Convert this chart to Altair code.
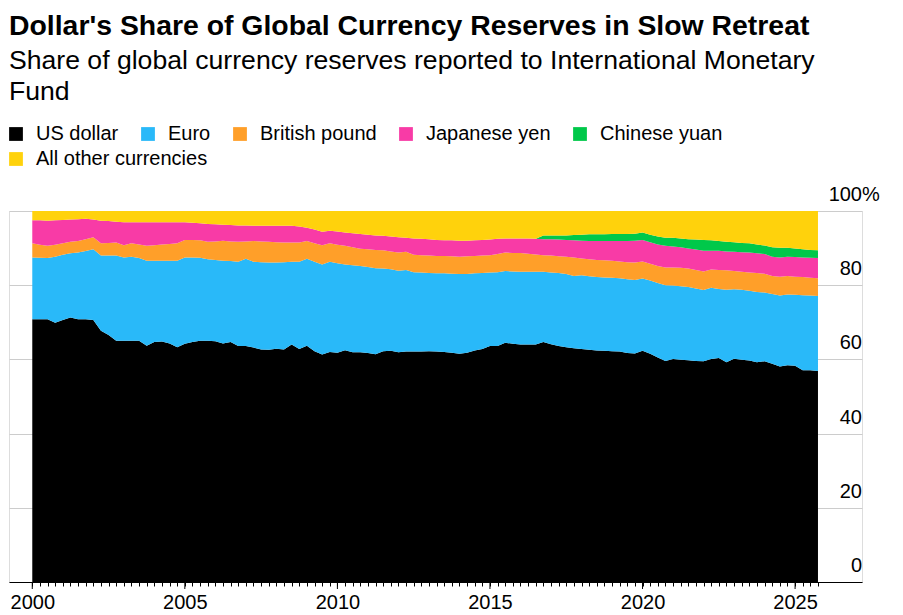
import altair as alt
import pandas as pd

# Quarterly observations, 2000 Q1 .. 2025 Q4 (x as fractional year)
quarters = [year + q / 4 for year in range(2000, 2026) for q in range(4)]

series_names = ["US dollar", "Euro", "British pound", "Japanese yen",
                "Chinese yuan", "All other currencies"]
series_colors = ["#000000", "#29b9f9", "#ff9f29", "#f83ba6", "#00c84a", "#ffd20c"]

us_dollar = [
    70.8, 70.8, 70.8, 69.9,  70.6, 71.3, 70.8, 70.8,  70.6, 67.7, 66.6, 65.0,
    65.0, 65.0, 65.0, 63.7,  64.7, 64.8, 64.3, 63.3,  64.2, 64.7, 65.0, 65.0,
    64.9, 64.3, 64.7, 63.6,  63.6, 63.2, 62.7, 62.6,  62.9, 62.7, 64.0, 62.8,
    63.7, 62.2, 61.3, 62.0,  61.8, 62.5, 61.9, 61.9,  61.7, 61.4, 62.2, 62.3,
    61.9, 62.1, 62.1, 62.1,  62.2, 62.1, 62.0, 61.8,  61.5, 61.8, 62.4, 62.8,
    63.6, 63.6, 64.5, 64.2,  64.0, 64.0, 64.0, 64.7,  64.1, 63.6, 63.3, 63.0,
    62.8, 62.6, 62.4, 62.3,  62.2, 62.1, 61.7, 61.6,  62.3, 61.5, 60.5, 59.6,
    60.1, 59.9, 59.8, 59.6,  59.5, 60.1, 60.4, 59.2,  60.2, 59.9, 59.7, 59.2,
    59.5, 58.8, 58.1, 58.4,  58.3, 57.1, 57.1, 56.9,
]
euro = [
    16.7, 16.6, 16.5, 17.8,  17.6, 17.3, 18.0, 18.4,  19.1, 20.3, 21.4, 23.0,
    22.5, 22.7, 22.3, 22.9,  21.9, 21.8, 22.3, 23.3,  23.3, 22.8, 22.4, 22.0,
    21.9, 22.3, 21.8, 22.7,  23.5, 23.1, 23.5, 23.5,  23.2, 23.5, 22.3, 23.5,
    23.4, 24.1, 24.3, 24.3,  24.1, 23.1, 23.5, 23.3,  23.2, 23.2, 22.3, 22.0,
    22.0, 22.0, 21.4, 21.3,  21.1, 21.1, 21.2, 21.3,  21.5, 21.2, 20.8, 20.5,
    19.8, 19.9, 19.3, 19.5,  19.6, 19.6, 19.6, 18.9,  19.3, 19.7, 19.7, 19.5,
    19.9, 19.8, 19.8, 19.8,  19.8, 19.8, 19.9, 19.8,  19.5, 19.8, 20.1, 20.4,
    19.8, 19.8, 19.7, 19.5,  19.2, 19.2, 18.6, 19.6,  18.7, 18.9, 18.8, 19.0,
    18.5, 18.8, 19.1, 19.1,  19.1, 20.2, 20.1, 20.2,
]
british_pound = [
    3.8, 3.5, 3.3, 3.2,  3.1, 3.1, 3.1, 3.2,  3.2, 3.3, 3.4, 3.5,
    3.3, 3.6, 3.7, 4.0,  4.2, 4.4, 4.5, 4.7,  4.7, 4.7, 4.7, 4.7,
    5.0, 5.4, 5.3, 5.4,  4.7, 5.6, 5.6, 5.6,  5.5, 5.3, 5.2, 5.2,
    4.8, 5.0, 5.2, 5.0,  5.0, 5.0, 4.8, 4.6,  4.8, 4.9, 4.9, 4.8,
    4.9, 4.9, 4.7, 4.7,  4.7, 4.7, 4.7, 4.7,  4.7, 4.8, 4.7, 4.7,
    4.7, 4.9, 5.0, 5.0,  5.1, 4.9, 4.7, 4.5,  4.6, 4.5, 4.7, 5.0,
    4.5, 4.6, 4.6, 4.6,  4.6, 4.5, 4.6, 4.7,  4.6, 4.5, 4.6, 4.8,
    4.9, 5.0, 5.0, 5.0,  5.0, 4.9, 5.1, 5.2,  4.9, 4.8, 4.9, 5.1,
    5.1, 4.9, 5.1, 5.0,  4.9, 4.9, 4.8, 4.8,
]
japanese_yen = [
    6.2, 6.6, 6.8, 6.6,  6.3, 6.0, 5.9, 5.5,  4.8, 6.1, 5.9, 5.6,
    6.2, 5.7, 6.0, 6.4,  6.2, 6.0, 5.9, 5.7,  4.8, 4.6, 4.6, 4.8,
    4.6, 4.3, 4.4, 4.4,  4.3, 4.1, 4.2, 4.3,  4.4, 4.5, 4.5, 4.3,
    3.6, 3.7, 3.6, 3.4,  3.6, 3.6, 3.8, 4.0,  3.9, 3.9, 3.9, 4.0,
    4.1, 3.8, 4.4, 4.4,  4.4, 4.3, 4.2, 4.3,  4.3, 4.2, 4.2, 4.2,
    4.2, 4.1, 3.8, 3.9,  3.9, 4.1, 4.2, 4.3,  4.4, 4.5, 4.5, 4.6,
    4.8, 4.9, 5.1, 5.2,  5.3, 5.5, 5.7, 5.9,  5.8, 5.8, 5.8, 5.8,
    5.6, 5.5, 5.4, 5.5,  5.6, 5.1, 5.2, 5.1,  5.2, 5.3, 5.4, 5.3,
    5.3, 5.2, 5.2, 5.2,  5.3, 5.3, 5.4, 5.4,
]
# Chinese yuan reported only from late 2016
chinese_yuan = [None] * 66 + [
    0.0, 1.0,  1.0, 1.1, 1.2, 1.4,  1.6, 1.8, 1.8, 1.8,  1.9, 1.9, 1.9, 1.9,
    2.0, 2.0, 2.1, 2.2,  2.4, 2.4, 2.5, 2.7,  2.9, 2.8, 2.6, 2.6,
    2.6, 2.5, 2.5, 2.4,  2.3, 2.5, 2.6, 2.4,  2.3, 2.2, 2.1, 2.1,
]
all_other = [
    2.5, 2.5, 2.6, 2.5,  2.4, 2.3, 2.2, 2.1,  2.3, 2.6, 2.7, 2.9,
    3.0, 3.0, 3.0, 3.0,  3.0, 3.0, 3.0, 3.0,  3.0, 3.2, 3.3, 3.5,
    3.6, 3.7, 3.8, 3.9,  3.9, 4.0, 4.0, 4.0,  4.0, 4.0, 4.0, 4.2,
    4.5, 5.0, 5.6, 5.3,  5.5, 5.8, 6.0, 6.2,  6.4, 6.6, 6.7, 6.9,
    7.1, 7.2, 7.4, 7.5,  7.6, 7.8, 7.9, 7.9,  8.0, 8.0, 7.9, 7.8,
    7.7, 7.5, 7.4, 7.4,  7.4, 7.4, 7.5, 6.6,  6.6, 6.6, 6.6, 6.5,
    6.4, 6.3, 6.3, 6.3,  6.2, 6.2, 6.2, 6.1,  5.8, 6.4, 6.9, 7.2,
    7.2, 7.4, 7.6, 7.7,  7.8, 7.9, 8.1, 8.3,  8.4, 8.6, 8.7, 9.0,
    9.3, 9.8, 9.9, 9.9,  10.1, 10.3, 10.5, 10.6,
]

major_years = [2000, 2005, 2010, 2015, 2020, 2025]
y_ticks = [0, 20, 40, 60, 80, 100]
y_labels = ["0", "20", "40", "60", "80", "100"]

all_series = [us_dollar, euro, british_pound, japanese_yen, chinese_yuan, all_other]
rows = []
for k, (name, vals) in enumerate(zip(series_names, all_series)):
    for t, v in zip(quarters, vals):
        if v is not None:
            rows.append({"t": t, "series": name, "share": v, "ord": k})
df = pd.DataFrame(rows)

W, H = 853, 371
x_scale = alt.Scale(domain=[1999.237, 2027.193], nice=False, zero=False)
y_scale = alt.Scale(domain=[0, 100], nice=False)
FONT = "Liberation Sans"
LEG_X, LEG_Y = -3, -87

x_axis = alt.Axis(values=quarters, tickSize=4, tickColor="black",
                  domainColor="black", domainWidth=1.2,
                  labelExpr="datum.value % 5 == 0 ? format(datum.value, 'd') : ''",
                  labelOverlap=False, labelFlush=False, labelPadding=6,
                  labelFontSize=20, labelColor="black", labelFont=FONT,
                  grid=False, title=None)
y_axis = alt.Axis(values=y_ticks, grid=True, gridColor="#cccccc",
                  gridWidth=1, labels=False, ticks=False, domain=False, title=None)

legend_common = dict(
    orient="none", direction="horizontal", title=None,
    symbolType="square", symbolSize=190, symbolStrokeWidth=0, symbolOpacity=1,
    labelFontSize=20, labelFont=FONT, labelColor="black", labelLimit=400,
    labelOffset=10, columnPadding=19,
)

area = alt.Chart(df).mark_area(interpolate="linear").encode(
    x=alt.X("t:Q", scale=x_scale, axis=x_axis),
    y=alt.Y("share:Q", stack="zero", scale=y_scale, axis=y_axis),
    color=alt.Color("series:N",
                    scale=alt.Scale(domain=series_names, range=series_colors),
                    legend=alt.Legend(values=series_names[:5],
                                      legendX=LEG_X, legendY=LEG_Y,
                                      **legend_common)),
    order=alt.Order("ord:Q", sort="ascending"),
)

# second legend row ("All other currencies") via an invisible helper layer
other_df = pd.DataFrame({"series": series_names[5:]})
other_legend = alt.Chart(other_df).mark_square(opacity=0).encode(
    fill=alt.Fill("series:N",
                  scale=alt.Scale(domain=series_names[5:], range=series_colors[5:]),
                  legend=alt.Legend(legendX=LEG_X, legendY=LEG_Y + 25,
                                    **legend_common)),
)

major_df = pd.DataFrame({"t": major_years})
major_ticks = alt.Chart(major_df).mark_rule(color="black", strokeWidth=1).encode(
    x=alt.X("t:Q", scale=x_scale, axis=x_axis),
    y=alt.value(H),
    y2=alt.value(H + 7),
)

ylab_df = pd.DataFrame({"v": y_ticks, "label": y_labels})
ylabels = alt.Chart(ylab_df).mark_text(
    align="right", baseline="alphabetic", dy=-10, fontSize=20, font=FONT, color="black"
).encode(x=alt.value(W), y=alt.Y("v:Q", scale=y_scale, axis=y_axis), text="label:N")

pct_df = pd.DataFrame({"v": [100], "label": ["%"]})
pct = alt.Chart(pct_df).mark_text(
    align="left", baseline="alphabetic", dy=-10, fontSize=20, font=FONT, color="black"
).encode(x=alt.value(W), y=alt.Y("v:Q", scale=y_scale, axis=y_axis), text="label:N")

chart = alt.layer(area, major_ticks, ylabels, pct, other_legend).properties(
    width=W, height=H,
    autosize=alt.AutoSizeParams(type="none"),
    padding={"left": 9, "top": 211, "right": 41, "bottom": 33},
    title=alt.Title(
        text="Dollar's Share of Global Currency Reserves in Slow Retreat",
        subtitle=["Share of global currency reserves reported to International Monetary",
                  "Fund"],
        anchor="start", frame="group", orient="top",
        font=FONT, fontSize=28.4, fontWeight="bold", color="black",
        subtitleFont=FONT, subtitleFontSize=26.6, subtitleFontWeight="normal",
        subtitleColor="black", subtitleLineHeight=31, subtitlePadding=7,
        offset=17,
    ),
).resolve_scale(color="independent", fill="independent").configure_view(
    stroke=None
).configure(background="white")

chart.save("out.html", embed_options={"renderer": "svg", "actions": False})
